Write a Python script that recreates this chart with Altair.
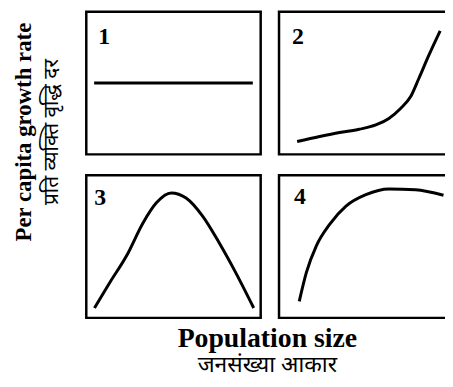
import altair as alt
import pandas as pd

# Panel 1: constant per capita growth rate
p1_x = [4.5, 95.5]
p1_y = [50, 50]

# Panel 2: accelerating growth rate
p2_x = [10.4, 23.3, 34.7, 46.0, 55.5, 63.0, 69.7, 75.4, 80.1, 85.8, 92.4]
p2_y = [9.0, 12.5, 15.3, 17.6, 20.6, 25.2, 32.2, 40.3, 53.0, 69.2, 86.6]

# Panel 3: hump-shaped growth rate
p3_x = [4.7, 13.6, 23.1, 32.6, 40.2, 48.7, 57.2, 66.7, 76.1, 85.6, 96.0]
p3_y = [6.9, 25.0, 43.5, 66.7, 80.6, 87.5, 84.0, 71.3, 52.8, 31.9, 6.9]

# Panel 4: saturating growth rate
p4_x = [11.6, 15.7, 21.4, 29.0, 38.4, 49.8, 63.1, 78.2, 94.3]
p4_y = [11.6, 31.9, 50.5, 65.5, 78.3, 86.3, 90.3, 89.8, 85.9]

labels = ["1", "2", "3", "4"]

x_title = "Population size"
x_subtitle = "जनसंख्या आकार"
y_title = "Per capita growth rate"
y_subtitle = "प्रति व्यक्ति वृद्धि दर"

HINDI_FONT = "Noto Sans Devanagari, Lohit Devanagari, FreeSans, Noto Sans, sans-serif"


def panel(xs, ys, label, lx, ly):
    df = pd.DataFrame({"x": xs, "y": ys})
    line = alt.Chart(df).mark_line(
        color="black", strokeWidth=3, interpolate="monotone"
    ).encode(
        x=alt.X("x:Q", scale=alt.Scale(domain=[0, 100]), axis=None),
        y=alt.Y("y:Q", scale=alt.Scale(domain=[0, 100]), axis=None),
    )
    txt = alt.Chart(pd.DataFrame({"t": [label]})).mark_text(
        font="Liberation Serif", fontWeight="bold", fontSize=24,
        align="left", baseline="alphabetic", color="black"
    ).encode(text="t:N", x=alt.value(lx), y=alt.value(ly))
    return alt.layer(line, txt).properties(width=176, height=144)


row1 = alt.hconcat(
    panel(p1_x, p1_y, labels[0], 12, 33),
    panel(p2_x, p2_y, labels[1], 13, 33),
    spacing=14.5,
)
row2 = alt.hconcat(
    panel(p3_x, p3_y, labels[2], 8, 30),
    panel(p4_x, p4_y, labels[3], 15, 29),
    spacing=14.5,
)

grid = alt.vconcat(row1, row2, spacing=17).properties(
    title=alt.TitleParams(
        text=y_title, subtitle=y_subtitle, orient="left", anchor="middle",
        font="Liberation Serif", fontWeight="bold", fontSize=23, color="black",
        subtitleFont=HINDI_FONT, subtitleFontSize=21, subtitleColor="black",
        subtitlePadding=6, offset=23, dx=33,
    )
)

chart = alt.vconcat(grid).properties(
    title=alt.TitleParams(
        text=x_title, subtitle=x_subtitle, orient="bottom", anchor="middle",
        font="Liberation Serif", fontWeight="bold", fontSize=28, color="black",
        subtitleFont=HINDI_FONT, subtitleFontSize=23, subtitleColor="black",
        subtitlePadding=1, offset=6, dx=34,
    ),
    padding={"left": 4, "top": 0, "right": -10, "bottom": 3},
).configure_view(stroke="black", strokeWidth=2.5).configure_concat(spacing=0)

chart.save("out.html", embed_options={"renderer": "svg", "actions": False})
